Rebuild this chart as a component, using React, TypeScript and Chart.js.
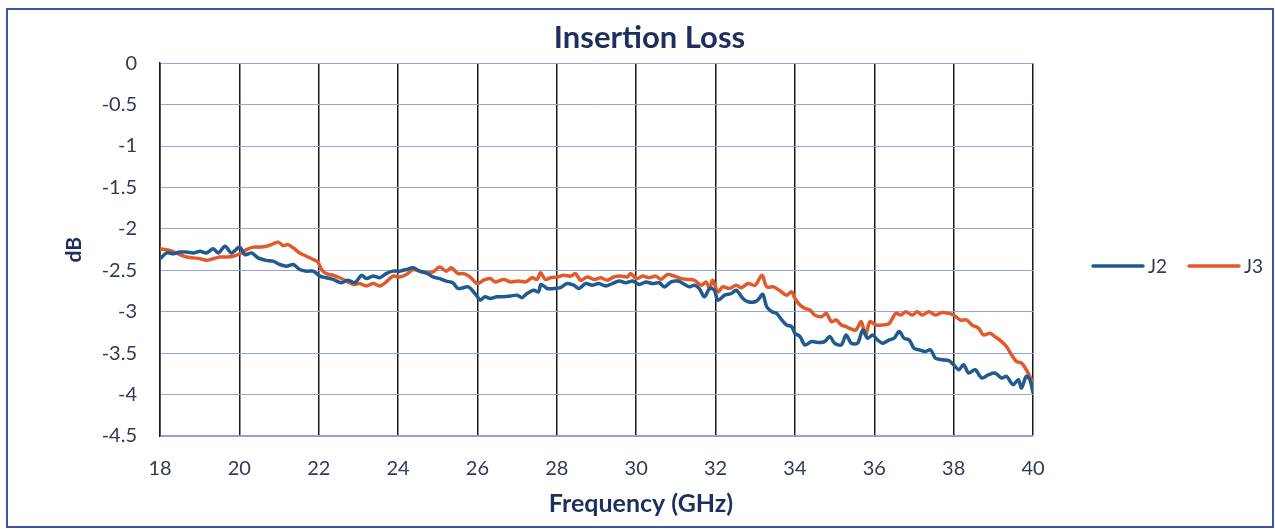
import React, { useEffect, useRef } from "react";
import { Chart, registerables } from "chart.js";

Chart.register(...registerables);

const chartTitle = "Insertion Loss";
const xTitle = "Frequency (GHz)";
const yTitle = "dB";
const seriesNames = ["J2", "J3"];
const seriesColors = ["#1f5b8e", "#e05a2b"];

const freqJ2 = [
  18.0, 18.17, 18.34, 18.5, 18.67, 18.84, 19.01, 19.17, 19.34, 19.47, 19.64, 19.8, 20.01, 20.14,
  20.31, 20.47, 20.68, 20.85, 21.02, 21.19, 21.36, 21.52, 21.69, 21.86, 22.03, 22.19, 22.36, 22.57,
  22.74, 22.91, 23.08, 23.2, 23.37, 23.54, 23.7, 23.87, 24.04, 24.21, 24.38, 24.54, 24.71, 24.88,
  25.05, 25.21, 25.38, 25.51, 25.77, 25.9, 26.0, 26.07, 26.19, 26.32, 26.49, 26.66, 26.83, 27.0,
  27.12, 27.25, 27.42, 27.54, 27.6, 27.76, 27.92, 28.09, 28.26, 28.43, 28.56, 28.73, 28.89, 29.06,
  29.23, 29.4, 29.57, 29.74, 29.91, 30.08, 30.24, 30.41, 30.58, 30.71, 30.88, 31.05, 31.22, 31.34,
  31.47, 31.59, 31.72, 31.85, 31.97, 32.06, 32.23, 32.4, 32.52, 32.69, 32.82, 33.0, 33.08, 33.19,
  33.29, 33.42, 33.54, 33.67, 33.79, 33.92, 34.0, 34.13, 34.25, 34.42, 34.58, 34.75, 34.88, 35.0,
  35.17, 35.29, 35.42, 35.58, 35.71, 35.83, 35.96, 36.08, 36.21, 36.38, 36.5, 36.63, 36.75, 36.88,
  37.0, 37.13, 37.29, 37.42, 37.54, 37.71, 37.88, 38.0, 38.13, 38.25, 38.38, 38.54, 38.71, 38.88,
  39.04, 39.21, 39.33, 39.5, 39.63, 39.71, 39.83, 39.92, 40.0,
];
const lossJ2 = [
  -2.36, -2.29, -2.3, -2.28, -2.28, -2.29, -2.27, -2.29, -2.24, -2.29, -2.21, -2.29, -2.22, -2.31,
  -2.29, -2.35, -2.38, -2.39, -2.43, -2.45, -2.43, -2.49, -2.51, -2.51, -2.57, -2.59, -2.61, -2.65,
  -2.62, -2.65, -2.56, -2.6, -2.57, -2.59, -2.54, -2.51, -2.51, -2.49, -2.47, -2.51, -2.53, -2.58,
  -2.6, -2.63, -2.65, -2.72, -2.7, -2.76, -2.82, -2.86, -2.82, -2.84, -2.82, -2.82, -2.81, -2.8,
  -2.83, -2.78, -2.74, -2.76, -2.67, -2.72, -2.72, -2.71, -2.66, -2.68, -2.72, -2.66, -2.68, -2.66,
  -2.69, -2.66, -2.63, -2.65, -2.63, -2.67, -2.64, -2.66, -2.65, -2.7, -2.64, -2.63, -2.67, -2.7,
  -2.68, -2.72, -2.82, -2.72, -2.74, -2.86, -2.8, -2.78, -2.74, -2.84, -2.88, -2.88, -2.85, -2.79,
  -2.94, -3.0, -3.02, -3.1, -3.16, -3.18, -3.26, -3.3, -3.4, -3.36, -3.37, -3.36, -3.3, -3.38,
  -3.4, -3.28, -3.38, -3.38, -3.22, -3.32, -3.28, -3.34, -3.38, -3.34, -3.32, -3.24, -3.32, -3.34,
  -3.44, -3.46, -3.48, -3.46, -3.56, -3.58, -3.59, -3.64, -3.7, -3.64, -3.74, -3.7, -3.8, -3.76,
  -3.74, -3.8, -3.78, -3.88, -3.82, -3.92, -3.78, -3.82, -3.98,
];

const freqJ3 = [
  18.0, 18.25, 18.5, 18.67, 18.84, 19.01, 19.17, 19.34, 19.51, 19.68, 19.85, 20.01, 20.18, 20.35,
  20.52, 20.68, 20.85, 20.98, 21.1, 21.23, 21.36, 21.52, 21.69, 21.86, 21.98, 22.07, 22.19, 22.36,
  22.53, 22.7, 22.87, 23.03, 23.2, 23.37, 23.54, 23.7, 23.87, 24.04, 24.21, 24.38, 24.54, 24.71,
  24.88, 25.05, 25.21, 25.34, 25.51, 25.65, 25.81, 26.0, 26.15, 26.32, 26.45, 26.66, 26.83, 27.04,
  27.21, 27.38, 27.5, 27.59, 27.71, 27.84, 28.01, 28.18, 28.35, 28.47, 28.6, 28.77, 28.94, 29.11,
  29.27, 29.44, 29.61, 29.78, 29.86, 30.01, 30.16, 30.33, 30.5, 30.62, 30.79, 30.96, 31.13, 31.3,
  31.47, 31.64, 31.76, 31.85, 31.93, 32.06, 32.18, 32.35, 32.52, 32.65, 32.82, 33.0, 33.17, 33.29,
  33.46, 33.63, 33.79, 33.92, 34.0, 34.13, 34.25, 34.38, 34.5, 34.67, 34.79, 34.92, 35.04, 35.17,
  35.29, 35.42, 35.54, 35.67, 35.78, 35.89, 36.04, 36.21, 36.38, 36.54, 36.67, 36.79, 36.96, 37.08,
  37.21, 37.38, 37.54, 37.71, 37.88, 38.0, 38.17, 38.33, 38.46, 38.63, 38.75, 38.92, 39.04, 39.21,
  39.33, 39.46, 39.58, 39.71, 39.83, 40.0,
];
const lossJ3 = [
  -2.24, -2.26, -2.31, -2.34, -2.35, -2.36, -2.38, -2.36, -2.34, -2.34, -2.33, -2.3, -2.25, -2.22,
  -2.22, -2.21, -2.18, -2.16, -2.2, -2.19, -2.23, -2.29, -2.33, -2.37, -2.4, -2.49, -2.54, -2.56,
  -2.59, -2.63, -2.67, -2.66, -2.69, -2.66, -2.69, -2.64, -2.57, -2.58, -2.55, -2.49, -2.51, -2.53,
  -2.52, -2.46, -2.51, -2.47, -2.54, -2.54, -2.58, -2.66, -2.62, -2.6, -2.64, -2.61, -2.64, -2.63,
  -2.64, -2.59, -2.61, -2.53, -2.61, -2.59, -2.58, -2.56, -2.57, -2.54, -2.62, -2.58, -2.61, -2.59,
  -2.62, -2.58, -2.57, -2.58, -2.54, -2.6, -2.57, -2.59, -2.57, -2.61, -2.55, -2.57, -2.6, -2.61,
  -2.62, -2.68, -2.64, -2.72, -2.62, -2.76, -2.7, -2.72, -2.68, -2.71, -2.66, -2.68, -2.56, -2.7,
  -2.7, -2.75, -2.8, -2.76, -2.84, -2.92, -2.96, -2.98, -3.04, -3.06, -3.02, -3.12, -3.1, -3.16,
  -3.18, -3.21, -3.22, -3.12, -3.28, -3.12, -3.16, -3.16, -3.14, -3.02, -3.04, -3.0, -3.04, -3.0,
  -3.04, -3.0, -3.04, -3.01, -3.02, -3.04, -3.1, -3.1, -3.16, -3.2, -3.28, -3.26, -3.3, -3.36,
  -3.42, -3.52, -3.6, -3.62, -3.7, -3.86,
];

const X_MIN = 18;
const X_MAX = 40;
const X_STEP = 2;
const Y_MIN = -4.5;
const Y_MAX = 0;
const Y_STEP = 0.5;

const TEXT = "#2f3a58";
const TITLE_COLOR = "#1e2f5e";
const FONT = "Lato, 'Open Sans', sans-serif";

const framePlugin = {
  id: "frame",
  beforeDraw(chart: any) {
    const { ctx } = chart;
    ctx.save();
    ctx.fillStyle = "#ffffff";
    ctx.fillRect(0, 0, chart.width, chart.height);
    ctx.strokeStyle = "#3a55a0";
    ctx.lineWidth = 2;
    ctx.strokeRect(7, 9, 1266, 518);
    ctx.restore();
  },
};

const annotationPlugin = {
  id: "legendAndXTitle",
  afterDraw(chart: any) {
    const { ctx } = chart;
    ctx.save();
    // x-axis title
    ctx.font = `bold 25px ${FONT}`;
    ctx.fillStyle = TITLE_COLOR;
    ctx.textAlign = "center";
    ctx.textBaseline = "middle";
    ctx.fillText(xTitle, 641, 504);
    // legend
    const y = 266;
    const lineStarts = [1093, 1189];
    ctx.font = `19px ${FONT}`;
    ctx.textAlign = "left";
    chart.data.datasets.forEach((ds: any, i: number) => {
      const x0 = lineStarts[i];
      ctx.strokeStyle = ds.borderColor;
      ctx.lineWidth = 3.5;
      ctx.lineCap = "round";
      ctx.beginPath();
      ctx.moveTo(x0, y);
      ctx.lineTo(x0 + 50, y);
      ctx.stroke();
      ctx.fillStyle = TEXT;
      ctx.fillText(ds.label, x0 + 55, y + 1);
    });
    ctx.restore();
  },
};

const fmt = (v: any) => `${Math.round(Number(v) * 10) / 10}`;

export default function App() {
  const canvasRef = useRef<HTMLCanvasElement | null>(null);

  useEffect(() => {
    if (!canvasRef.current) return;
    const chart = new Chart(canvasRef.current, {
      type: "line",
      data: {
        datasets: [
          {
            label: seriesNames[0],
            data: freqJ2.map((f, i) => ({ x: f, y: lossJ2[i] })),
            borderColor: seriesColors[0],
            backgroundColor: seriesColors[0],
            borderWidth: 3.5,
            pointRadius: 0,
            tension: 0.3,
            borderJoinStyle: "round",
          },
          {
            label: seriesNames[1],
            data: freqJ3.map((f, i) => ({ x: f, y: lossJ3[i] })),
            borderColor: seriesColors[1],
            backgroundColor: seriesColors[1],
            borderWidth: 3.5,
            pointRadius: 0,
            tension: 0.3,
            borderJoinStyle: "round",
          },
        ],
      },
      options: {
        responsive: false,
        animation: false,
        layout: { padding: { left: 24, right: 0, top: 0, bottom: 0 } },
        plugins: {
          legend: { display: false },
          tooltip: { enabled: false },
          title: {
            display: true,
            text: chartTitle,
            color: TITLE_COLOR,
            font: { family: FONT, size: 31, weight: "bold" },
            padding: { top: 19, bottom: 7 },
          },
        },
        scales: {
          x: {
            type: "linear",
            min: X_MIN,
            max: X_MAX,
            afterFit: (s: any) => {
              s.height = 93;
            },
            ticks: {
              stepSize: X_STEP,
              color: TEXT,
              font: { family: FONT, size: 20 },
              padding: 21,
              maxRotation: 0,
              callback: fmt,
            },
            grid: { color: "#1a1a1a", lineWidth: 1.5, drawTicks: false },
            border: { color: "#9a9ad8", width: 1.5 },
          },
          y: {
            type: "linear",
            min: Y_MIN,
            max: Y_MAX,
            afterFit: (s: any) => {
              s.width = 136;
            },
            ticks: {
              stepSize: Y_STEP,
              color: TEXT,
              font: { family: FONT, size: 20 },
              padding: 23,
              callback: fmt,
            },
            grid: { color: "#94a6dc", lineWidth: 1, drawTicks: false },
            border: { color: "#1a1a1a", width: 1.5 },
            title: {
              display: true,
              text: yTitle,
              color: TITLE_COLOR,
              font: { family: FONT, size: 21, weight: "bold" },
              padding: { top: 38, bottom: 0 },
            },
          },
          yRight: {
            type: "linear",
            position: "right",
            display: true,
            min: Y_MIN,
            max: Y_MAX,
            afterFit: (s: any) => {
              s.width = 242;
            },
            ticks: { display: false },
            grid: { display: false, drawTicks: false },
            border: { display: false },
          },
        },
      },
      plugins: [framePlugin, annotationPlugin],
    });
    return () => chart.destroy();
  }, []);

  return (
    <div style={{ position: "fixed", left: 0, top: 0, width: 1275, height: 529, background: "#fff" }}>
      <canvas ref={canvasRef} width={1275} height={529} style={{ display: "block" }} />
    </div>
  );
}
